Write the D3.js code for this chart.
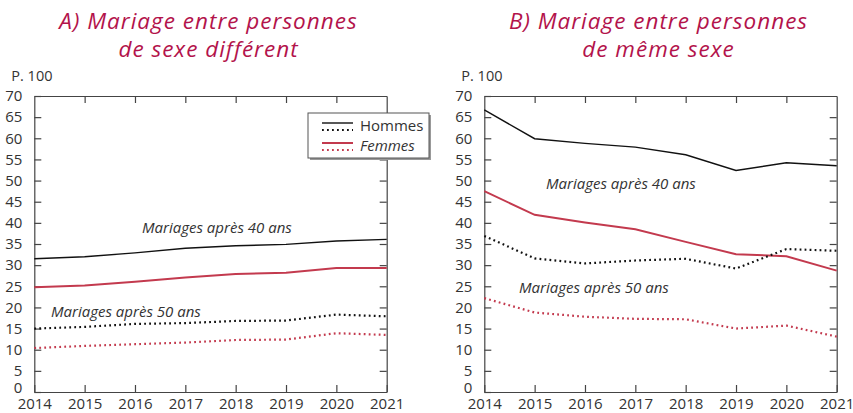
<!DOCTYPE html>
<html>
<head>
<meta charset="utf-8">
<script src="https://cdn.jsdelivr.net/npm/d3@7"></script>
<style>
  body { margin: 0; background: #fff; }
  text { font-family: "Open Sans", "Noto Sans", sans-serif; }
</style>
</head>
<body>
<div id="graphsvg"></div>
<script>
// years on the x axis
var years = [2014, 2015, 2016, 2017, 2018, 2019, 2020, 2021];
var yTicks = [0, 5, 10, 15, 20, 25, 30, 35, 40, 45, 50, 55, 60, 65, 70];

// A) different sex
var a_hommes40 = [31.5, 32.0, 32.9, 34.0, 34.6, 34.9, 35.7, 36.1];
var a_femmes40 = [24.8, 25.2, 26.1, 27.1, 27.9, 28.2, 29.3, 29.3];
var a_hommes50 = [15.0, 15.4, 16.1, 16.3, 16.8, 16.9, 18.3, 17.9];
var a_femmes50 = [10.4, 10.9, 11.3, 11.7, 12.3, 12.4, 13.9, 13.5];

// B) same sex
var b_hommes40 = [66.7, 59.9, 58.8, 57.9, 56.1, 52.4, 54.2, 53.5];
var b_femmes40 = [47.5, 41.9, 40.1, 38.5, 35.5, 32.6, 32.1, 28.7];
var b_hommes50 = [36.9, 31.6, 30.4, 31.1, 31.5, 29.2, 33.8, 33.4];
var b_femmes50 = [22.2, 18.8, 17.8, 17.3, 17.2, 15.0, 15.7, 13.1];

var width = 853;
var height = 413;
var red = "#c33a4e";
var titleCol = "#b3134b";
var txt = "#333";
var dots = "1.8,3.2";

var svg = d3.select("#graphsvg")
  .append("svg")
  .attr("width", width)
  .attr("height", height);

function panel(left, right, title1, title2, series, notes, withLegend) {
  var top = 96, bottom = 392;
  var x = d3.scaleLinear().domain([2014, 2021]).range([left, right]);
  var y = d3.scaleLinear().domain([0, 70]).range([bottom, top]);
  var g = svg.append("g");

  // titles
  var cx = (left + right) / 2 - 2;
  [[title1, 29], [title2, 57]].forEach(function (t) {
    g.append("text").attr("x", cx).attr("y", t[1]).attr("text-anchor", "middle")
      .style("font-size", "22.5px").style("font-style", "italic").style("fill", titleCol)
      .style("letter-spacing", "1px")
      .text(t[0]);
  });

  g.append("text").attr("x", left - 23).attr("y", 81)
    .style("font-size", "14.5px").style("fill", txt).text("P. 100");

  // frame + inner ticks via axes
  var tk = 7;
  var yl = g.append("g").attr("transform", "translate(" + left + ",0)")
    .call(d3.axisLeft(y).tickValues(yTicks).tickSizeInner(-tk).tickSizeOuter(0).tickPadding(tk + 5));
  // the 0 label sits a bit higher, as in the source
  yl.selectAll(".tick text").filter(function (d) { return d === 0; }).attr("y", -4);
  g.append("g").attr("transform", "translate(" + right + ",0)")
    .call(d3.axisRight(y).tickValues(yTicks.slice(1, -1)).tickSizeInner(-tk).tickSizeOuter(0).tickFormat(""));
  g.append("g").attr("transform", "translate(0," + bottom + ")")
    .call(d3.axisBottom(x).tickValues(years).tickSizeInner(-tk).tickSizeOuter(0).tickPadding(6).tickFormat(d3.format("d")));
  g.append("g").attr("transform", "translate(0," + top + ")")
    .call(d3.axisTop(x).tickValues(years.slice(1, -1)).tickSizeInner(-tk).tickSizeOuter(0).tickFormat(""));

  g.selectAll(".domain").attr("stroke", "#444").attr("stroke-width", 1.2);
  g.selectAll(".tick line").attr("stroke", "#444").attr("stroke-width", 1.2);
  g.selectAll(".tick text").style("font-size", "15px").style("fill", txt)
    .style("font-family", "'Open Sans', sans-serif");

  var line = d3.line().x(function (d, i) { return x(years[i]); }).y(function (d) { return y(d); });

  series.forEach(function (s) {
    g.append("path").datum(s.values)
      .attr("d", line)
      .attr("fill", "none")
      .attr("stroke", s.color)
      .attr("stroke-width", s.dotted ? 2.2 : (s.color == red ? 2 : 1.4))
      .attr("stroke-dasharray", s.dotted ? dots : null);
  });

  notes.forEach(function (n) {
    g.append("text").attr("x", n.x).attr("y", n.y)
      .style("font-size", "15px").style("font-style", "italic").style("fill", txt)
      .text(n.text);
  });

  if (withLegend) {
    var lx = 308, ly = 113, lw = 121, lh = 45;
    g.append("rect").attr("x", lx + 2).attr("y", ly + 2).attr("width", lw).attr("height", lh)
      .attr("fill", "#999");
    g.append("rect").attr("x", lx).attr("y", ly).attr("width", lw).attr("height", lh)
      .attr("fill", "#fff").attr("stroke", "#555").attr("stroke-width", 1);
    var items = [
      { name: "Hommes", color: "#111", italic: false, y: ly + 10 },
      { name: "Femmes", color: red, italic: true, y: ly + 30 }
    ];
    items.forEach(function (it) {
      g.append("line").attr("x1", lx + 14).attr("x2", lx + 45)
        .attr("y1", it.y).attr("y2", it.y)
        .attr("stroke", it.color).attr("stroke-width", it.color == red ? 2 : 1.4);
      g.append("line").attr("x1", lx + 14).attr("x2", lx + 45)
        .attr("y1", it.y + 7).attr("y2", it.y + 7)
        .attr("stroke", it.color).attr("stroke-width", 2.2).attr("stroke-dasharray", dots);
      g.append("text").attr("x", lx + 52).attr("y", it.y + 8)
        .style("font-size", "15px").style("fill", txt)
        .style("font-style", it.italic ? "italic" : "normal")
        .text(it.name);
    });
  }
}

panel(34.3, 386.7, "A) Mariage entre personnes", "de sexe différent", [
  { values: a_hommes40, color: "#111", dotted: false },
  { values: a_femmes40, color: red, dotted: false },
  { values: a_hommes50, color: "#111", dotted: true },
  { values: a_femmes50, color: red, dotted: true }
], [
  { text: "Mariages après 40 ans", x: 142, y: 233 },
  { text: "Mariages après 50 ans", x: 51, y: 317 }
], true);

panel(484.3, 836.7, "B) Mariage entre personnes", "de même sexe", [
  { values: b_hommes40, color: "#111", dotted: false },
  { values: b_femmes40, color: red, dotted: false },
  { values: b_hommes50, color: "#111", dotted: true },
  { values: b_femmes50, color: red, dotted: true }
], [
  { text: "Mariages après 40 ans", x: 546, y: 189 },
  { text: "Mariages après 50 ans", x: 519, y: 293 }
], false);
</script>
</body>
</html>
